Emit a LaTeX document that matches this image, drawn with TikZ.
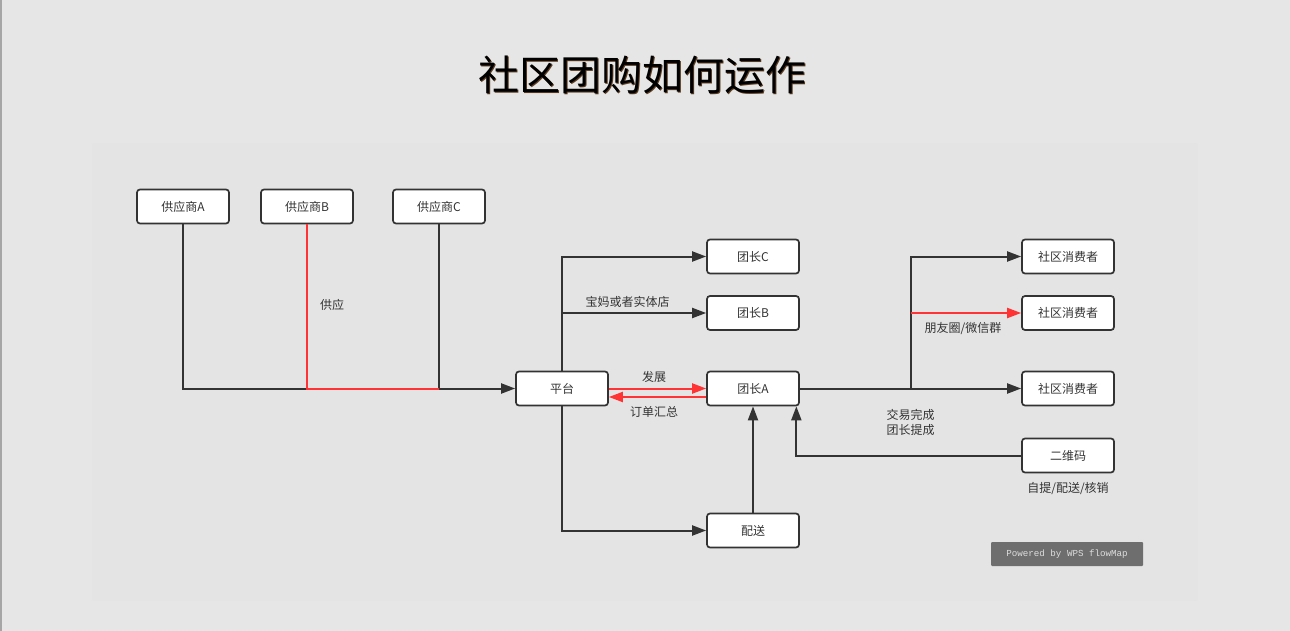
\documentclass[tikz,border=0pt]{standalone}
\usepackage{fontspec}
\newfontfamily\cjk{Noto Sans CJK SC}
\newfontfamily\monof{Liberation Mono}
\usetikzlibrary{arrows.meta}
\definecolor{bgc}{HTML}{E6E6E6}
\definecolor{innerc}{HTML}{E4E4E4}
\definecolor{ink}{HTML}{333333}
\definecolor{redl}{HTML}{FF3333}
\definecolor{wpsbox}{HTML}{6E6E6E}
\definecolor{wpstext}{HTML}{DDDDDD}
\definecolor{shadowc}{HTML}{5A3A1E}
\tikzset{
  box/.style={draw=ink, line width=1.7pt, rounded corners=3pt, fill=white,
    minimum width=92pt, minimum height=34pt, inner sep=0pt,
    font=\cjk\fontsize{12pt}{14pt}\selectfont, text=ink},
  conn/.style={draw=ink, line width=2pt},
  arr/.style={-{Triangle[length=14pt,width=10pt]}},
  redconn/.style={draw=redl, line width=2pt},
  lbl/.style={font=\cjk\fontsize{12pt}{15pt}\selectfont, text=ink, inner sep=0pt, align=center}
}
\begin{document}
\begin{tikzpicture}[x=1pt,y=-1pt]
\useasboundingbox (0,0) rectangle (1290,631);
\fill[bgc] (0,0) rectangle (1290,631);
\fill[innerc] (92,143) rectangle (1198,601);
\fill[gray!70] (0,0) rectangle (1.5,631);

% title
\node[font=\cjk\fontsize{41pt}{46pt}\selectfont, text=shadowc, inner sep=0pt] at (643,76) {社区团购如何运作};
\node[font=\cjk\fontsize{41pt}{46pt}\selectfont, text=black, inner sep=0pt] (title) at (642,75) {社区团购如何运作};

% nodes
\node[box] (pA) at (183,206.5) {供应商A};
\node[box] (pB) at (307,206.5) {供应商B};
\node[box] (pC) at (439,206.5) {供应商C};
\node[box] (pt) at (562,388.5) {平台};
\node[box] (tC) at (753,256.5) {团长C};
\node[box] (tB) at (753,313) {团长B};
\node[box] (tA) at (753,388.5) {团长A};
\node[box] (ps) at (753,530.5) {配送};
\node[box] (c1) at (1068,256.5) {社区消费者};
\node[box] (c2) at (1068,313) {社区消费者};
\node[box] (c3) at (1068,388.5) {社区消费者};
\node[box] (qr) at (1068,455.5) {二维码};

% suppliers
\draw[conn] (pA.south) |- (pB.south |- pt.west);
\draw[conn, arr] (pC.south) |- (pt.west);
\draw[redconn] (pB.south) |- (pC.south |- pt.west);
\node[lbl] (lsup) at (332,305) {供应};

% platform to leaders
\draw[conn, arr] (pt.north) |- (tC.west);
\draw[conn, arr] (pt.north |- tB.west) -- (tB.west);
\node[lbl] (lbm) at (627.5,301.5) {宝妈或者实体店};
\draw[redconn, arr] (pt.east) -- (tA.west);
\draw[redconn, arr] ([yshift=-8.5pt]tA.west) -- ([yshift=-8.5pt]pt.east);
\node[lbl] (lfz) at (654,376.5) {发展};
\node[lbl] (ldd) at (654,411.5) {订单汇总};

% platform to delivery
\draw[conn, arr] (pt.south) |- (ps.west);
\draw[conn, arr] (ps.north) -- (tA.south);

% leader A to consumers
\coordinate (br) at (910.5,388.5);
\draw[conn, arr] (tA.east) -- (c3.west);
\draw[conn, arr] (br) |- (c1.west);
\draw[redconn, arr] (br |- c2.west) -- (c2.west);
\node[lbl] (lpy) at (963,328.5) {朋友圈/微信群};
\node[lbl] (ljy) at (910.5,422) {交易完成\\团长提成};

% QR
\draw[conn, arr] (qr.west) -| ([xshift=-3.5pt]tA.south east);
\node[lbl] (lzt) at (1068,488.5) {自提/配送/核销};

% watermark
\node[fill=wpsbox, minimum width=152pt, minimum height=24pt, inner sep=0pt,
  font=\monof\fontsize{9.2pt}{10pt}\selectfont, text=wpstext, rounded corners=1pt] (wps) at (1067,554) {Powered by WPS flowMap};
\end{tikzpicture}
\end{document}
